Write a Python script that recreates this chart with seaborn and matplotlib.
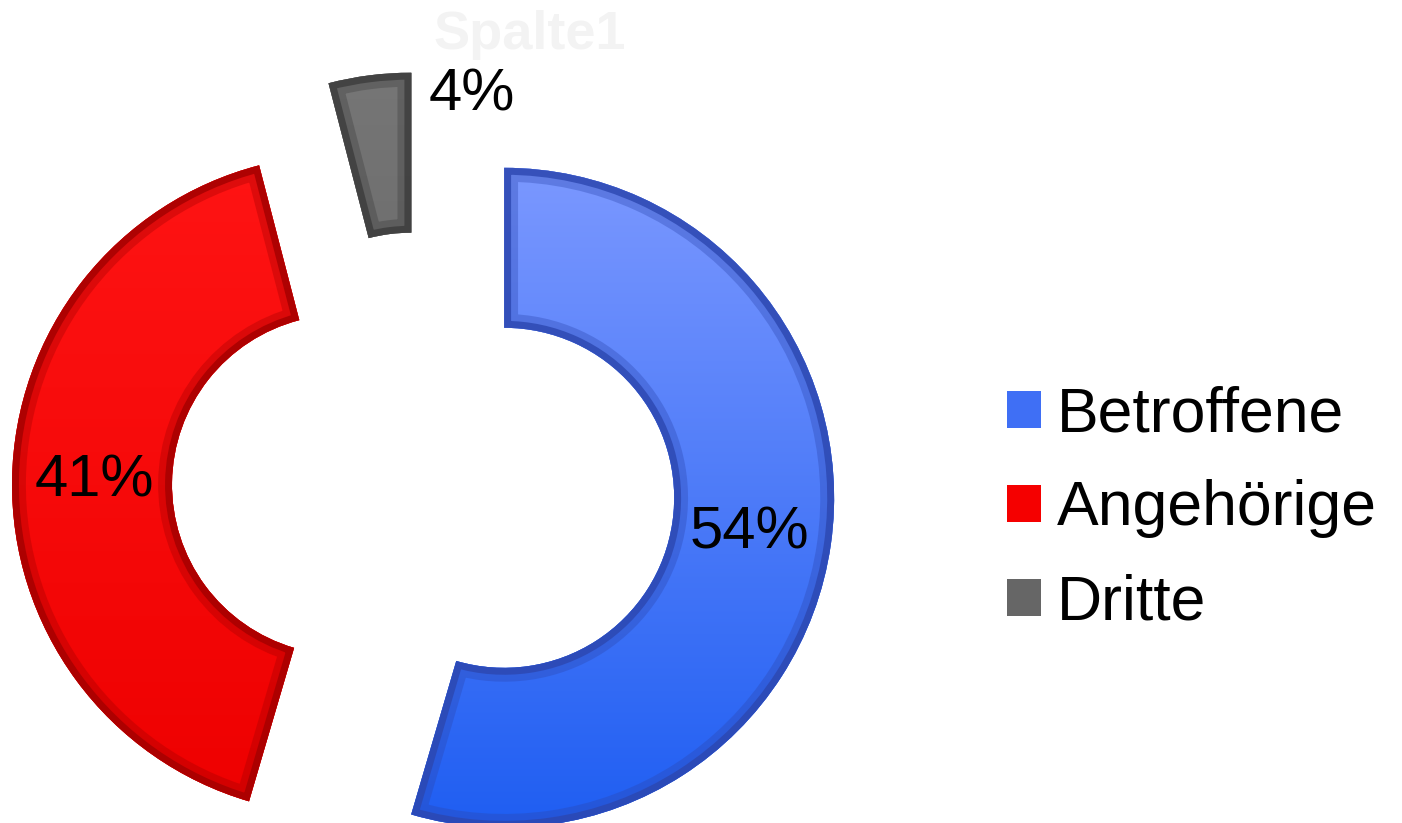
import numpy as np
import matplotlib
matplotlib.use("Agg")
import matplotlib.pyplot as plt
import matplotlib.patches as mpatches
from matplotlib.colors import LinearSegmentedColormap
import seaborn as sns

# Daten
categories = ["Betroffene", "Angehörige", "Dritte"]
shares = [54, 41, 4]
pct_labels = ["54%", "41%", "4%"]
chart_title = "Spalte1"

# Farben (oben hell -> unten dunkel, plus Kante)
top_colors = ["#7b98ff", "#ff1414", "#767676"]
bottom_colors = ["#1f5ef2", "#ee0000", "#5c5c5c"]
base_colors = ["#3f6ff5", "#f50000", "#666666"]
edge_colors = ["#2c47b0", "#a30000", "#3c3c3c"]

sns.set_theme(style="white")
plt.rcParams["font.family"] = ["Liberation Sans", "DejaVu Sans"]

W, H = 1402, 823
fig = plt.figure(figsize=(W / 100, H / 100), dpi=100)
ax = fig.add_axes([0, 0, 1, 1])

label_iter = iter(pct_labels)
wedges, texts, autotexts = ax.pie(
    shares,
    center=(422, 337),
    radius=330,
    startangle=90,
    counterclock=False,
    explode=[83, 80, 84],
    colors=base_colors,
    autopct=lambda p: next(label_iter),
    pctdistance=0.75,
    wedgeprops=dict(width=160, linewidth=0),
    textprops=dict(fontsize=43, color="black"),
    frame=True,
)

# Verlauf + Fasenkante pro Segment
grad = np.linspace(0, 1, 256).reshape(-1, 1)
for w, c_top, c_bot, c_edge in zip(wedges, top_colors, bottom_colors, edge_colors):
    cx, cy = w.center
    r = w.r
    cmap = LinearSegmentedColormap.from_list("seg", [c_bot, c_top])
    im = ax.imshow(grad, extent=[cx - r, cx + r, cy - r, cy + r], origin="lower",
                   cmap=cmap, aspect="auto", zorder=1.5)
    im.set_clip_path(w)
    # weiche Fase: breite helle Kante + schmale dunkle Kante
    for lw, a in [(20, 0.35), (10, 0.8)]:
        band = mpatches.Wedge((cx, cy), r, w.theta1, w.theta2, width=w.width,
                              fill=False, edgecolor=c_edge, linewidth=lw, alpha=a, zorder=1.6)
        ax.add_patch(band)
        band.set_clip_path(w)

for t in autotexts:
    t.set_zorder(3)

# "4%" neben dem abgesetzten Segment
gw = wedges[2]
gx, gy = gw.center
autotexts[2].set_position((gx + 17, gy + gw.r - 22))
autotexts[2].set_ha("left")
autotexts[2].set_va("center")

ax.text(530, H - 35, chart_title, ha="center", va="center", fontsize=39,
        fontweight="bold", color="#f3f3f3", zorder=3)

leg = ax.legend(wedges, categories, loc="center left",
                bbox_to_anchor=(1007 / W, 314 / H), bbox_transform=fig.transFigure,
                frameon=False, fontsize=45, handlelength=0.55, handleheight=0.55,
                handletextpad=0.25, labelspacing=0.56, borderaxespad=0, borderpad=0)
for t in leg.get_texts():
    t.set_color("black")

ax.set_xlim(0, W)
ax.set_ylim(0, H)
ax.set_aspect("equal")
ax.axis("off")

fig.savefig("out.png", dpi=100, facecolor="white")
